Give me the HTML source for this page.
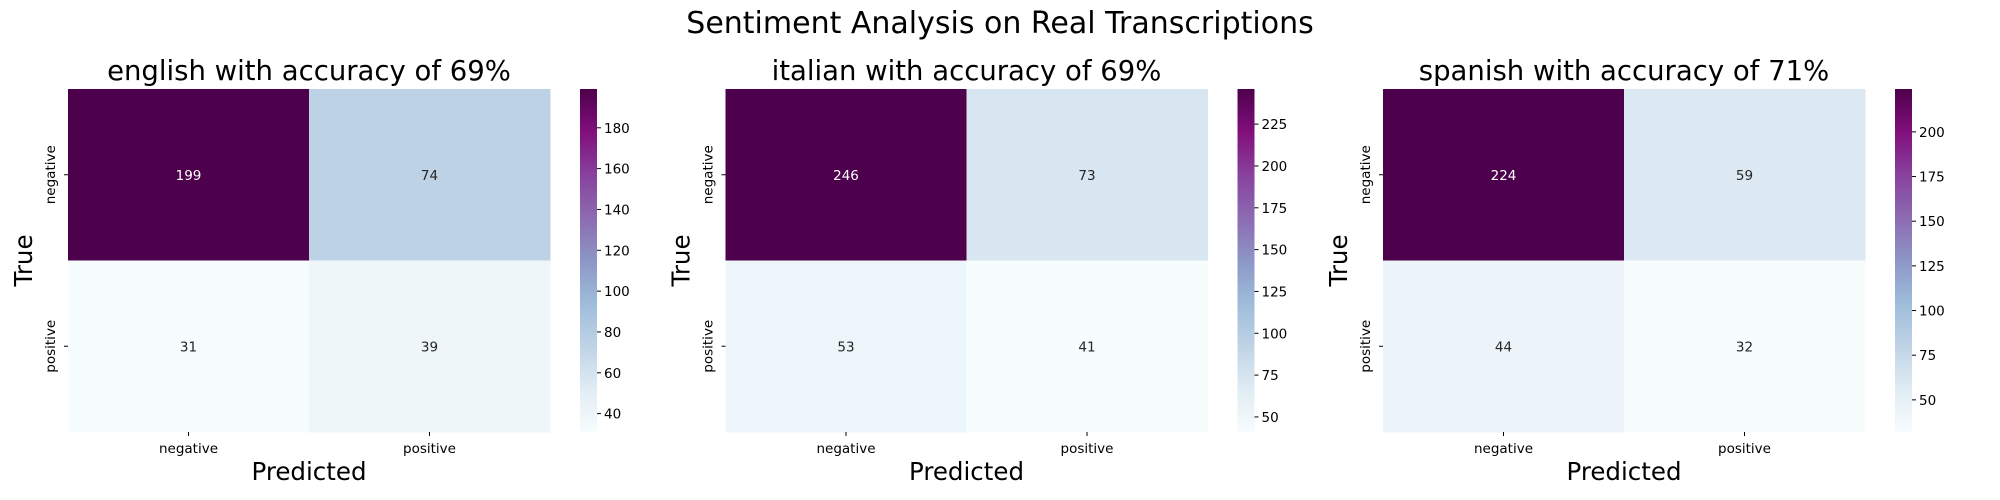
<!DOCTYPE html>
<html><head><meta charset="utf-8"><style>
html,body{margin:0;padding:0;background:#fff;overflow:hidden;}
svg{display:block;}
text{font-family:"DejaVu Sans","Liberation Sans",sans-serif;}
</style></head><body>
<svg id="fig" width="2000" height="500" viewBox="0 0 2000 500" xmlns="http://www.w3.org/2000/svg">
<text x="1000" y="33" font-size="30" text-anchor="middle" fill="#000">Sentiment Analysis on Real Transcriptions</text>
</svg>
<script>
const languages = ["english","italian","spanish"];
const accuracies = [69, 69, 71];
const classLabels = ["negative","positive"];
const englishValues = [199, 74, 31, 39];
const italianValues = [246, 73, 53, 41];
const spanishValues = [224, 59, 44, 32];
const englishTicks = [40,60,80,100,120,140,160,180];
const italianTicks = [50,75,100,125,150,175,200,225];
const spanishTicks = [50,75,100,125,150,175,200];
const allValues = [englishValues, italianValues, spanishValues];
const allTicks = [englishTicks, italianTicks, spanishTicks];

const NS = "http://www.w3.org/2000/svg";
const svg = document.getElementById("fig");
const BUPU = ["#f7fcfd","#e0ecf4","#bfd3e6","#9ebcda","#8c96c6","#8c6bb1","#88419d","#810f7c","#4d004b"];
function hex(h){return [1,3,5].map(i=>parseInt(h.substr(i,2),16));}
function cmap(t){
  t=Math.max(0,Math.min(1,t));
  const p=t*(BUPU.length-1), i=Math.min(Math.floor(p),BUPU.length-2), f=p-i;
  const a=hex(BUPU[i]), b=hex(BUPU[i+1]);
  return a.map((v,k)=>Math.round(v+(b[k]-v)*f));
}
function mk(tag, attrs, parent){
  const e=document.createElementNS(NS,tag);
  for(const k in attrs) e.setAttribute(k, attrs[k]);
  (parent||svg).appendChild(e);
  return e;
}
const TOP=89, BOT=432, W=482;
const defs=mk("defs",{});
const gr=mk("linearGradient",{id:"bupu",x1:"0",y1:"1",x2:"0",y2:"0"},defs);
BUPU.forEach((c,i)=>mk("stop",{offset:(i/(BUPU.length-1)),"stop-color":c},gr));

languages.forEach((lang,p)=>{
  const vals=allValues[p], ticks=allTicks[p];
  const vmin=Math.min(...vals), vmax=Math.max(...vals);
  const L=68+p*657.5;
  const g=mk("g",{});
  
  
  const cw=W/2, ch=(BOT-TOP)/2;
  vals.forEach((v,idx)=>{
    const r=Math.floor(idx/2), c=idx%2;
    const col=cmap((v-vmin)/(vmax-vmin));
    const rect=mk("rect",{x:L+c*cw,y:TOP+r*ch,width:cw+0.5,height:ch+0.5,fill:`rgb(${col.join(",")})`},g);
    
    
    const lum=(0.2126*col[0]+0.7152*col[1]+0.0722*col[2])/255;
    const t=mk("text",{x:L+c*cw+cw/2,y:TOP+r*ch+ch/2+5,"font-size":13.5,"text-anchor":"middle",fill:lum>0.408?"#262626":"#ffffff"},g);
    t.textContent=v;
    
    
  });
  classLabels.forEach((lab,c)=>{
    const cx=L+c*cw+cw/2;
    mk("line",{x1:cx,x2:cx,y1:BOT,y2:BOT+4,stroke:"#000","stroke-width":1},g);
    const t=mk("text",{x:cx,y:453,"font-size":13.5,"text-anchor":"middle",fill:"#000"},g);
    t.textContent=lab;
    
    
    const cy=TOP+c*ch+ch/2;
    mk("line",{x1:L-4,x2:L,y1:cy,y2:cy,stroke:"#000","stroke-width":1},g);
    const ty=mk("text",{x:0,y:0,"font-size":13.5,"text-anchor":"middle",fill:"#000",transform:`translate(${L-13},${cy}) rotate(-90)`},g);
    ty.textContent=lab;
    
    
  });
  const title=mk("text",{x:L+W/2,y:80,"font-size":27.5,"text-anchor":"middle",fill:"#000"},g);
  title.textContent=`${lang} with accuracy of ${accuracies[p]}%`;
  
  
  const xl=mk("text",{x:L+W/2,y:480,"font-size":24.5,"text-anchor":"middle",fill:"#000"},g);
  xl.textContent="Predicted";
  
  
  const yl=mk("text",{x:0,y:0,"font-size":24.5,"text-anchor":"middle",fill:"#000",transform:`translate(${L-36},${(TOP+BOT)/2}) rotate(-90)`},g);
  yl.textContent="True";
  
  
  const CL=L+512, CW=17;
  const cb=mk("rect",{x:CL,y:TOP,width:CW,height:BOT-TOP,fill:"url(#bupu)"},g);
  
  
  const yv=v=>BOT-(v-vmin)/(vmax-vmin)*(BOT-TOP);
  ticks.forEach(tv=>{
    const y=yv(tv);
    mk("line",{x1:CL+CW,x2:CL+CW+4,y1:y,y2:y,stroke:"#000","stroke-width":1},g);
    const t=mk("text",{x:CL+CW+7,y:y+5,"font-size":13.5,fill:"#000"},g);
    t.textContent=tv;
    
    
  });
});
</script>
</body></html>
